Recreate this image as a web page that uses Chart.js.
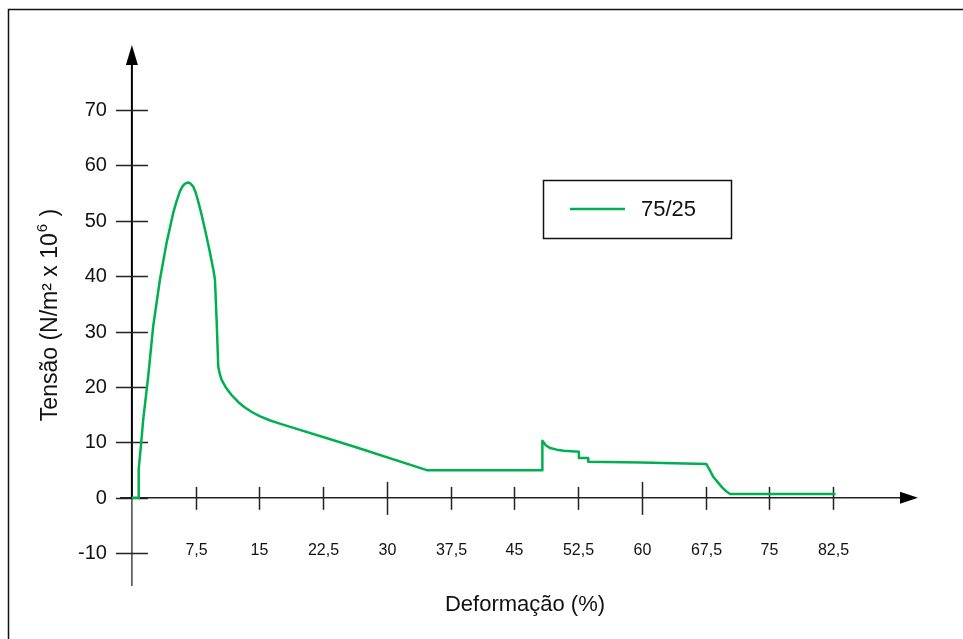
<!DOCTYPE html>
<html>
<head>
<meta charset="utf-8">
<script src="https://cdn.jsdelivr.net/npm/chart.js@4/dist/chart.umd.min.js"></script>
<style>
  html, body { margin: 0; padding: 0; background: #fff; }
  #wrap { width: 963px; height: 639px; position: relative; }
</style>
</head>
<body>
<div id="wrap"><canvas id="chart"></canvas></div>
<script>
// Curva tensão x deformação, amostra 75/25
const seriesLabel = '75/25';
const strain = [0, 0.8, 0.8, 1.1, 1.33, 1.92, 2.5, 3.3, 4.08, 4.86, 5.25, 5.65, 5.95, 6.24, 6.63, 6.9, 7.2, 7.5, 7.8, 8.2, 8.6, 9.1, 9.58,
  9.77, 9.97, 10.16, 10.35, 10.56, 11.1, 11.7, 12.5, 13.3, 14.2, 15.1, 16.2, 17.4, 26.0, 34.7,
  48.3, 48.3, 48.7, 49.2, 50.0, 50.8, 52.6, 52.6, 53.7, 53.7, 60.0, 67.6,
  68.0, 68.4, 69.0, 69.5, 70.0, 70.4, 82.8];
const stress = [0, 0, 5.2, 10.0, 14.1, 21.9, 30.9, 39.4, 46.0, 51.4, 53.5, 55.3, 56.2, 56.7, 56.9, 56.7, 56.2, 55.1, 53.5, 51.1, 48.4, 44.9, 41.2,
  39.4, 32.1, 23.7, 22.3, 21.3, 19.8, 18.6, 17.3, 16.3, 15.4, 14.7, 14.0, 13.4, 9.3, 5.0,
  5.0, 10.3, 9.5, 9.0, 8.7, 8.5, 8.3, 7.2, 7.2, 6.5, 6.4, 6.1,
  5.0, 3.8, 2.7, 1.8, 1.1, 0.7, 0.7];

const xTicks = [7.5, 15, 22.5, 30, 37.5, 45, 52.5, 60, 67.5, 75, 82.5];
const xTickLabels = ['7,5', '15', '22,5', '30', '37,5', '45', '52,5', '60', '67,5', '75', '82,5'];
const xLongTicks = [30, 60];
const yTicks = [-10, 0, 10, 20, 30, 40, 50, 60, 70];

const xTitle = 'Deformação (%)';
const yTitleMain = 'Tensão (N/m² x 10';
const yTitleSup = '6';
const yTitleEnd = ' )';

const GREEN = '#00b050';
const FONT = '"Liberation Sans", Arial, sans-serif';

const points = strain.map((x, i) => ({ x: x, y: stress[i] }));

// eixos, marcas, títulos e legenda desenhados à mão (estilo do original)
const axesPlugin = {
  id: 'axesPlugin',
  beforeDatasetsDraw(chart) {
    const ctx = chart.ctx;
    const xs = chart.scales.x, ys = chart.scales.y;
    const x0 = xs.getPixelForValue(0), y0 = ys.getPixelForValue(0);
    const left = chart.chartArea.left, right = chart.chartArea.right;
    const top = chart.chartArea.top, bottom = chart.chartArea.bottom;
    ctx.save();

    // moldura
    ctx.strokeStyle = '#111';
    ctx.lineWidth = 1.5;
    ctx.beginPath();
    ctx.moveTo(8.5, 639); ctx.lineTo(8.5, 9.5); ctx.lineTo(963, 9.5);
    ctx.stroke();

    // eixo y
    ctx.strokeStyle = '#000';
    ctx.lineWidth = 2;
    ctx.beginPath(); ctx.moveTo(x0, y0); ctx.lineTo(x0, top + 18); ctx.stroke();
    ctx.strokeStyle = '#444';
    ctx.lineWidth = 1.5;
    ctx.beginPath(); ctx.moveTo(x0, y0); ctx.lineTo(x0, bottom); ctx.stroke();
    ctx.fillStyle = '#000';
    ctx.beginPath();
    ctx.moveTo(x0, top); ctx.lineTo(x0 - 6, top + 20); ctx.lineTo(x0 + 6, top + 20);
    ctx.closePath(); ctx.fill();

    // eixo x
    ctx.strokeStyle = '#222';
    ctx.lineWidth = 1.5;
    ctx.beginPath(); ctx.moveTo(left, y0); ctx.lineTo(right - 15, y0); ctx.stroke();
    ctx.beginPath();
    ctx.moveTo(right, y0); ctx.lineTo(right - 18, y0 - 6); ctx.lineTo(right - 18, y0 + 6);
    ctx.closePath(); ctx.fill();

    // marcas e rótulos do eixo x
    ctx.strokeStyle = '#222';
    ctx.lineWidth = 1.5;
    ctx.font = '16px ' + FONT;
    ctx.textAlign = 'center';
    ctx.textBaseline = 'middle';
    xTicks.forEach((v, i) => {
      const px = Math.round(xs.getPixelForValue(v)) + 0.5;
      const long = xLongTicks.includes(v);
      ctx.beginPath();
      ctx.moveTo(px, y0 - (long ? 16 : 11));
      ctx.lineTo(px, y0 + (long ? 17 : 12));
      ctx.stroke();
      ctx.fillStyle = '#111';
      ctx.fillText(xTickLabels[i], px, y0 + 53);
    });

    // marcas e rótulos do eixo y
    ctx.font = '20px ' + FONT;
    ctx.textAlign = 'right';
    yTicks.forEach(v => {
      const py = Math.round(ys.getPixelForValue(v)) + 0.5;
      ctx.strokeStyle = '#222';
      ctx.beginPath();
      ctx.moveTo(x0 - 16, py); ctx.lineTo(x0 + 16, py);
      ctx.stroke();
      ctx.fillStyle = '#111';
      ctx.fillText(String(v), x0 - 25, py);
    });

    // título x
    ctx.font = '22px ' + FONT;
    ctx.textAlign = 'center';
    ctx.fillText(xTitle, 525, 605);

    // título y (girado, com expoente)
    ctx.save();
    ctx.translate(57, 316);
    ctx.rotate(-Math.PI / 2);
    ctx.textAlign = 'left';
    ctx.textBaseline = 'alphabetic';
    ctx.font = '23px ' + FONT;
    const w1 = ctx.measureText(yTitleMain).width;
    ctx.font = '15px ' + FONT;
    const w2 = ctx.measureText(yTitleSup).width;
    ctx.font = '23px ' + FONT;
    const w3 = ctx.measureText(yTitleEnd).width;
    let sx = -(w1 + w2 + w3) / 2;
    ctx.fillText(yTitleMain, sx, 0);
    ctx.font = '15px ' + FONT;
    ctx.fillText(yTitleSup, sx + w1 + 1, -10);
    ctx.font = '23px ' + FONT;
    ctx.fillText(yTitleEnd, sx + w1 + w2 + 2, 0);
    ctx.restore();

    // legenda
    ctx.strokeStyle = '#111';
    ctx.lineWidth = 1.5;
    ctx.strokeRect(543.5, 180.5, 188, 58);
    ctx.strokeStyle = GREEN;
    ctx.lineWidth = 2.5;
    ctx.beginPath(); ctx.moveTo(570, 209); ctx.lineTo(625, 209); ctx.stroke();
    ctx.fillStyle = '#111';
    ctx.font = '22px ' + FONT;
    ctx.textAlign = 'left';
    ctx.textBaseline = 'middle';
    ctx.fillText(chart.data.datasets[0].label, 641, 210);

    ctx.restore();
  }
};

new Chart(document.getElementById('chart'), {
  type: 'scatter',
  data: {
    datasets: [{
      label: seriesLabel,
      data: points,
      showLine: true,
      borderColor: GREEN,
      borderWidth: 2.5,
      borderJoinStyle: 'round',
      pointRadius: 0,
      tension: 0,
      fill: false
    }]
  },
  options: {
    responsive: true,
    maintainAspectRatio: false,
    animation: false,
    layout: { padding: { left: 120, right: 45, top: 45, bottom: 53 } },
    plugins: {
      legend: { display: false },
      tooltip: { enabled: false }
    },
    scales: {
      x: { type: 'linear', display: false, min: -1.4, max: 92.5 },
      y: { type: 'linear', display: false, min: -15.9, max: 81.7 }
    }
  },
  plugins: [axesPlugin]
});
</script>
</body>
</html>
